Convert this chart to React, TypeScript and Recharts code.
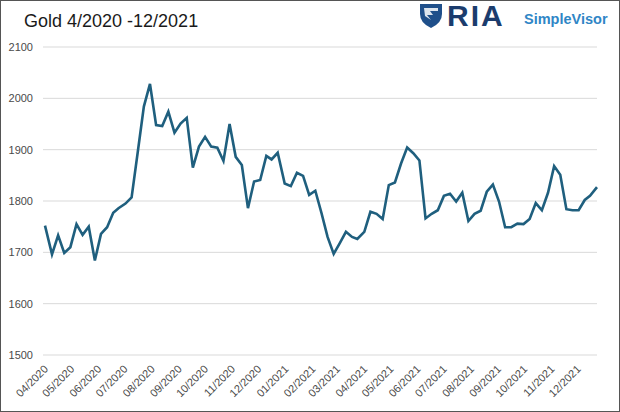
import React from "react";
import { LineChart, Line, XAxis, YAxis, CartesianGrid } from "recharts";

const weekDates: string[] = [
  "2020-04-09","2020-04-17","2020-04-24","2020-05-01","2020-05-08","2020-05-15","2020-05-22","2020-05-29",
  "2020-06-05","2020-06-12","2020-06-19","2020-06-26","2020-07-02","2020-07-10","2020-07-17","2020-07-24",
  "2020-07-31","2020-08-07","2020-08-14","2020-08-21","2020-08-28","2020-09-04","2020-09-11","2020-09-18",
  "2020-09-25","2020-10-02","2020-10-09","2020-10-16","2020-10-23","2020-10-30","2020-11-06","2020-11-13",
  "2020-11-20","2020-11-27","2020-12-04","2020-12-11","2020-12-18","2020-12-24","2020-12-31",
  "2021-01-08","2021-01-15","2021-01-22","2021-01-29","2021-02-05","2021-02-12","2021-02-19","2021-02-26",
  "2021-03-05","2021-03-12","2021-03-19","2021-03-26","2021-04-01","2021-04-09","2021-04-16","2021-04-23",
  "2021-04-30","2021-05-07","2021-05-14","2021-05-21","2021-05-28","2021-06-04","2021-06-11","2021-06-18",
  "2021-06-25","2021-07-02","2021-07-09","2021-07-16","2021-07-23","2021-07-30","2021-08-06","2021-08-13",
  "2021-08-20","2021-08-27","2021-09-03","2021-09-10","2021-09-17","2021-09-24","2021-10-01","2021-10-08",
  "2021-10-15","2021-10-22","2021-10-29","2021-11-05","2021-11-12","2021-11-19","2021-11-26","2021-12-03",
  "2021-12-10","2021-12-17","2021-12-23","2021-12-31",
];

const goldPrice: number[] = [
  1752, 1696, 1733, 1699, 1710, 1755, 1734, 1750,
  1684, 1736, 1749, 1777, 1786, 1795, 1807, 1895,
  1984, 2028, 1948, 1946, 1974, 1933, 1951, 1962,
  1865, 1906, 1925, 1906, 1904, 1878, 1950, 1886,
  1870, 1786, 1838, 1841, 1888, 1881, 1894,
  1834, 1829, 1855, 1849, 1812, 1820, 1777, 1730,
  1697, 1718, 1740, 1730, 1726, 1740, 1779, 1775,
  1765, 1831, 1836, 1873, 1904, 1893, 1879, 1766,
  1775, 1782, 1810, 1814, 1799, 1816, 1761, 1775,
  1781, 1818, 1832, 1799, 1749, 1749, 1756, 1755,
  1765, 1796, 1782, 1816, 1868, 1851, 1784, 1782,
  1782, 1802, 1810, 1827,
];

const monthLabels: string[] = [
  "04/2020","05/2020","06/2020","07/2020","08/2020","09/2020","10/2020","11/2020","12/2020",
  "01/2021","02/2021","03/2021","04/2021","05/2021","06/2021","07/2021","08/2021","09/2021",
  "10/2021","11/2021","12/2021",
];

const yTicks: number[] = [1500, 1600, 1700, 1800, 1900, 2000, 2100];

const data = weekDates.map((d, i) => ({ t: Date.parse(d), price: goldPrice[i] }));
const startDay = new Date(Date.parse(weekDates[0])).getUTCDate();
const xTicks = monthLabels.map((m) => {
  const [mm, yyyy] = m.split("/");
  return Date.UTC(Number(yyyy), Number(mm) - 1, startDay);
});

const FONT = "'Liberation Sans', Arial, sans-serif";

const XTick = (props: any) => {
  const { x, y, payload } = props;
  const idx = xTicks.indexOf(payload.value);
  return (
    <g transform={`translate(${x + 1},${y})`}>
      <text x={0} y={0} dy="0.35em" textAnchor="end" transform="rotate(-45)" fill="#4a4a4a" fontSize={11} fontFamily={FONT}>
        {idx >= 0 ? monthLabels[idx] : ""}
      </text>
    </g>
  );
};

export default function App() {
  return (
    <div style={{ position: "fixed", left: 0, top: 0, width: 620, height: 412, background: "#fff", overflow: "hidden" }}>
      <div style={{ position: "absolute", left: 24, top: 11, fontFamily: FONT, fontSize: 18, color: "#1a1a1a", whiteSpace: "nowrap" }}>
        Gold 4/2020 -12/2021
      </div>
      <svg style={{ position: "absolute", left: 0, top: 0 }} width={620} height={40}>
        <path d="M420 4 L442 4 L442 14 Q442 23 431 28 Q420 23 420 14 Z" fill="#1f4f8a" />
        <path d="M424 8 L438 8 L438 11 L430 11 L433 15 L427 15 L431 20 L425 16 Z" fill="#ffffff" opacity={0.85} />
        <text x={447} y={26} fontFamily={FONT} fontWeight="bold" fontSize={30} letterSpacing={2} fill="#1b3c6d">RIA</text>
        <text x={524} y={24} fontFamily={FONT} fontWeight="bold" fontSize={14.5} fill="#2f86c6">SimpleVisor</text>
      </svg>
      <div style={{ position: "absolute", left: 0, top: 0 }}>
        <LineChart width={620} height={412} data={data} margin={{ top: 47, right: 23, left: 0, bottom: 0 }}>
          <CartesianGrid vertical={false} stroke="#d9d9d9" strokeWidth={1} />
          <XAxis
            dataKey="t"
            type="number"
            domain={["dataMin", "dataMax"]}
            ticks={xTicks}
            interval={0}
            height={57}
            tickLine={false}
            axisLine={false}
            tickSize={0}
            tickMargin={12}
            tick={<XTick />}
            padding={{ left: 2, right: 0 }}
          />
          <YAxis
            domain={[1500, 2100]}
            ticks={yTicks}
            width={43}
            tickLine={false}
            axisLine={false}
            tickSize={0}
            tickMargin={10}
            tick={{ fill: "#4a4a4a", fontSize: 11, fontFamily: FONT }}
          />
          <Line type="linear" dataKey="price" stroke="#1f5f7e" strokeWidth={2.6} dot={false} isAnimationActive={false} />
        </LineChart>
      </div>
      <div style={{ position: "absolute", left: 0, top: 0, width: 620, height: 412, boxSizing: "border-box", border: "1.5px solid #555", pointerEvents: "none" }} />
    </div>
  );
}
